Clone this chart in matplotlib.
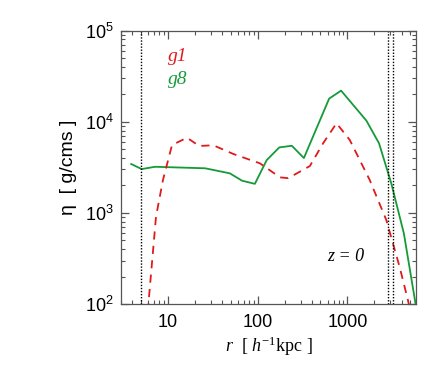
import matplotlib
matplotlib.use("Agg")
import matplotlib.pyplot as plt
from matplotlib.ticker import LogLocator, NullFormatter, FixedLocator, FixedFormatter

plt.rcParams['font.family'] = ['Liberation Sans', 'DejaVu Sans']
plt.rcParams['mathtext.fontset'] = 'custom'
plt.rcParams['mathtext.rm'] = 'Liberation Sans'
plt.rcParams['mathtext.it'] = 'Liberation Serif:italic'

# g8 (solid green)
r_g8 = [3.9, 5.1, 7.2, 26, 49, 67, 93, 126, 174, 240, 327, 625, 849, 1625, 2245, 3080, 4250, 5740]
eta_g8 = [3430, 3020, 3200, 3080, 2710, 2250, 2080, 3790, 5220, 5440, 3990, 17900, 21900, 10260, 5800, 2100, 594, 100]

# g1 (dashed red)
r_g1 = [5.6, 6.2, 7.36, 8.8, 11.1, 16.3, 22.3, 32, 53.6, 106, 177, 219, 381, 536, 755, 1060, 1770, 2710, 3810, 4720, 5200]
eta_g1 = [40, 130, 904, 2290, 5540, 6670, 5410, 5510, 4420, 3490, 2450, 2400, 3260, 5800, 9600, 6300, 2290, 832, 255, 110, 70]

# dotted vertical markers
r_marks = [5.0, 2800, 3250]

fig = plt.figure(figsize=(4.36, 3.65), dpi=100)
ax = fig.add_axes([121 / 436, 1 - 304 / 365, 295 / 436, 273.5 / 365])

ax.plot(r_g8, eta_g8, color='#159a38', lw=1.3)
ax.plot(r_g1, eta_g1, color='#e01a1a', lw=1.3, ls=(0, (4.5, 3.5)))
for xm in r_marks:
    ax.axvline(xm, color='black', lw=1.0, ls=(0, (1, 1.2)))

ax.set_xscale('log')
ax.set_yscale('log')
ax.set_xlim(3.0, 5800)
ax.set_ylim(1e2, 1e5)

ax.xaxis.set_major_locator(FixedLocator([10, 100, 1000]))
ax.xaxis.set_major_formatter(FixedFormatter(['10', '100', '1000']))
ax.xaxis.set_minor_locator(LogLocator(base=10, subs=range(2, 10), numticks=20))
ax.xaxis.set_minor_formatter(NullFormatter())
ax.yaxis.set_major_locator(FixedLocator([1e2, 1e3, 1e4, 1e5]))
ax.yaxis.set_major_formatter(FixedFormatter([r'$\mathregular{10^2}$', r'$\mathregular{10^3}$',
                                             r'$\mathregular{10^4}$', r'$\mathregular{10^5}$']))
ax.yaxis.set_minor_locator(LogLocator(base=10, subs=range(2, 10), numticks=20))
ax.yaxis.set_minor_formatter(NullFormatter())

ax.tick_params(which='both', direction='in', top=True, right=True, color='#555555', labelsize=13)
ax.tick_params(which='major', length=5.5, width=0.9)
ax.tick_params(which='minor', length=3, width=0.8)
ax.tick_params(axis='x', which='major', pad=7)
ax.tick_params(axis='y', which='major', pad=5)
for s in ax.spines.values():
    s.set_color('#555555')
    s.set_linewidth(0.9)

ax.set_ylabel('η  [ g/cms ]', fontsize=14, labelpad=6)
ax.set_xlabel(r'$r$  [ $h^{\mathregular{-1}}$kpc ]', fontsize=13, family='Liberation Serif', labelpad=3)

ax.text(0.16, 0.905, 'g1', transform=ax.transAxes, color='#e01a1a', fontsize=14,
        family='Liberation Serif', style='italic', va='center', ha='left')
ax.text(0.16, 0.822, 'g8', transform=ax.transAxes, color='#159a38', fontsize=14,
        family='Liberation Serif', style='italic', va='center', ha='left')
ax.text(0.70, 0.175, 'z = 0', transform=ax.transAxes, color='black', fontsize=13,
        family='Liberation Serif', style='italic', va='center', ha='left')

fig.savefig('out.png', dpi=100)
